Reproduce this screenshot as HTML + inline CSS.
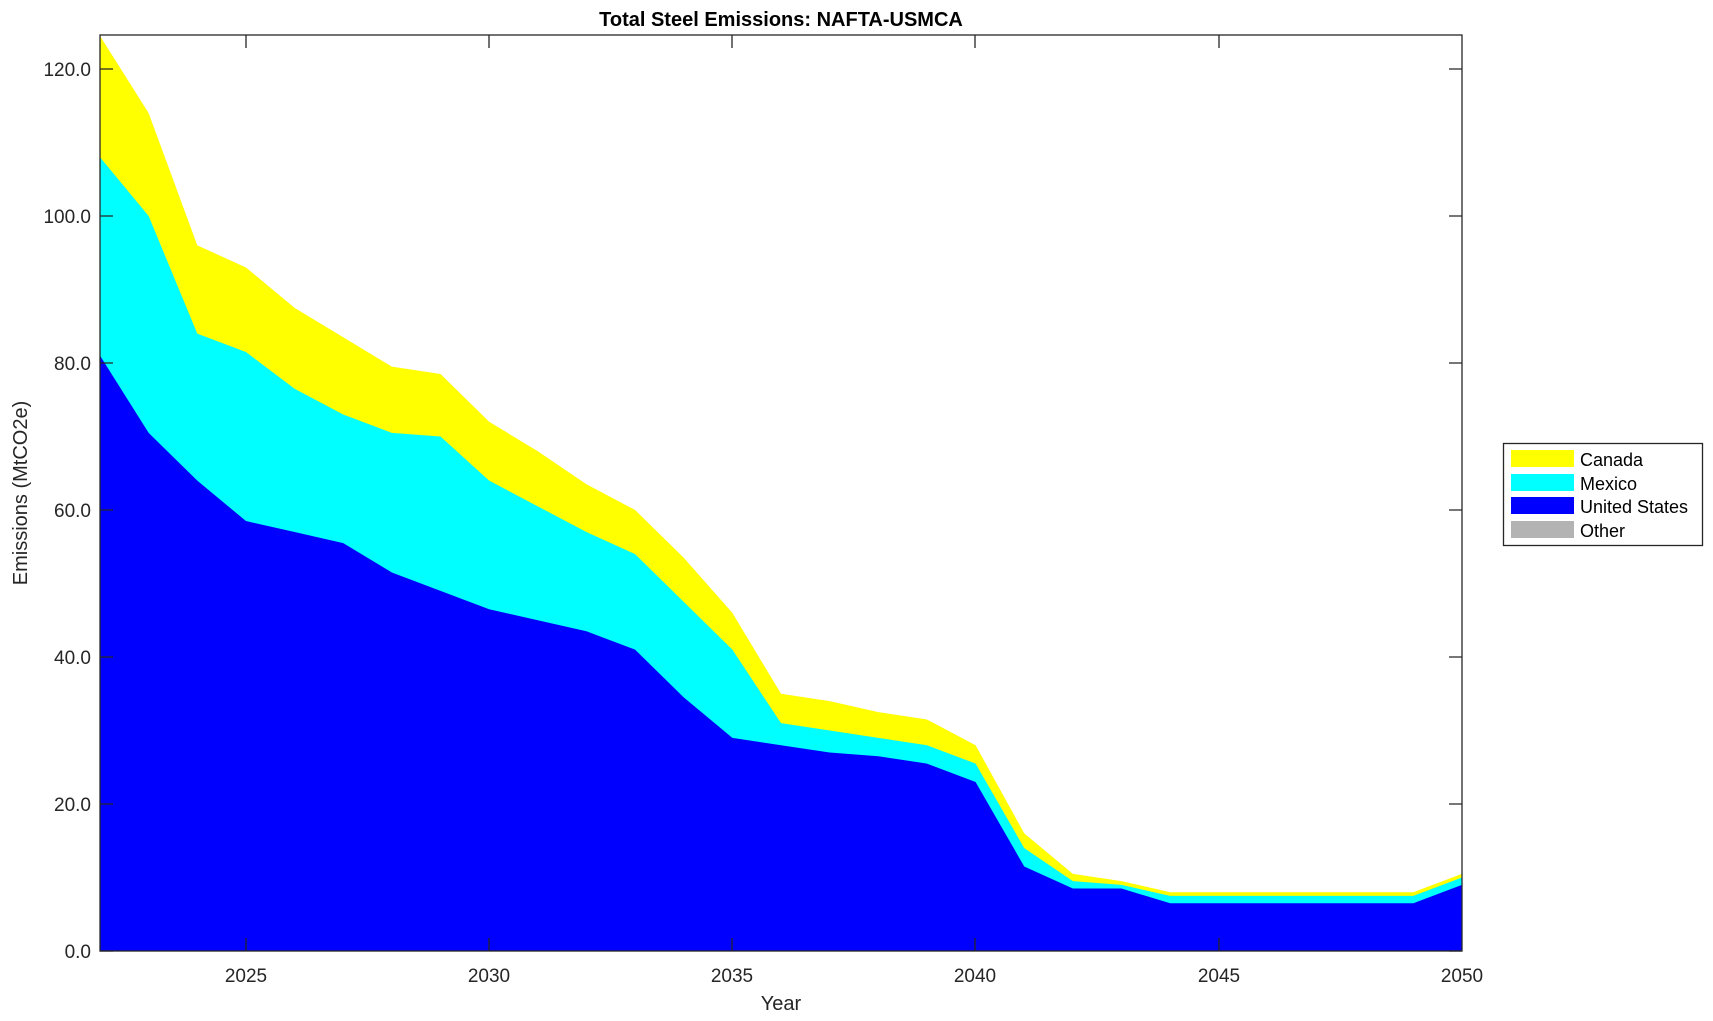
<!DOCTYPE html>
<html><head><meta charset="utf-8"><style>
html,body{margin:0;padding:0;background:#fff;}
svg{display:block;font-family:"Liberation Sans",Arial,sans-serif;}
</style></head><body>
<svg width="1713" height="1021" viewBox="0 0 1713 1021">
<rect width="1713" height="1021" fill="#fff"/>
<g transform="translate(100,951) scale(48.643,-7.35) translate(-2022,0)">
<polygon fill="#ffff00" points="2022,124.5 2023,114 2024,96 2025,93 2026,87.5 2027,83.5 2028,79.5 2029,78.5 2030,72 2031,68 2032,63.5 2033,60 2034,53.5 2035,46 2036,35 2037,34 2038,32.5 2039,31.5 2040,28 2041,16 2042,10.5 2043,9.5 2044,8 2045,8 2046,8 2047,8 2048,8 2049,8 2050,10.5 2050,0 2022,0"/>
<polygon fill="#00ffff" points="2022,108 2023,100 2024,84 2025,81.5 2026,76.5 2027,73 2028,70.5 2029,70 2030,64 2031,60.5 2032,57 2033,54 2034,47.5 2035,41 2036,31 2037,30 2038,29 2039,28 2040,25.5 2041,14 2042,9.5 2043,9 2044,7.5 2045,7.5 2046,7.5 2047,7.5 2048,7.5 2049,7.5 2050,10 2050,0 2022,0"/>
<polygon fill="#0000ff" points="2022,81 2023,70.5 2024,64 2025,58.5 2026,57 2027,55.5 2028,51.5 2029,49 2030,46.5 2031,45 2032,43.5 2033,41 2034,34.5 2035,29 2036,28 2037,27 2038,26.5 2039,25.5 2040,23 2041,11.5 2042,8.5 2043,8.5 2044,6.5 2045,6.5 2046,6.5 2047,6.5 2048,6.5 2049,6.5 2050,9 2050,0 2022,0"/>
</g>
<g stroke="#262626" stroke-width="1.3" fill="none">
<rect x="100" y="35" width="1362" height="916"/>
<path d="M246,951v-13M489,951v-13M732,951v-13M975,951v-13M1219,951v-13M246,35v13M489,35v13M732,35v13M975,35v13M1219,35v13"/>
<path d="M100,951h13M100,804h13M100,657h13M100,510h13M100,363h13M100,216h13M100,69h13M1462,951h-13M1462,804h-13M1462,657h-13M1462,510h-13M1462,363h-13M1462,216h-13M1462,69h-13"/>
</g>
<g fill="#262626" font-size="19" text-anchor="end">
<text x="91" y="958">0.0</text><text x="91" y="811">20.0</text><text x="91" y="664">40.0</text><text x="91" y="517">60.0</text><text x="91" y="370">80.0</text><text x="91" y="223">100.0</text><text x="91" y="76">120.0</text>
</g>
<g fill="#262626" font-size="19" text-anchor="middle">
<text x="246" y="982">2025</text><text x="489" y="982">2030</text><text x="732" y="982">2035</text><text x="975" y="982">2040</text><text x="1219" y="982">2045</text><text x="1462" y="982">2050</text>
<text x="781" y="1010" font-size="20">Year</text>
<text x="781" y="26" font-size="20" font-weight="bold" fill="#000">Total Steel Emissions: NAFTA-USMCA</text>
<text transform="translate(27,493) rotate(-90)" font-size="20">Emissions (MtCO2e)</text>
</g>
<rect x="1503.5" y="443.5" width="199" height="102" fill="#fff" stroke="#262626" stroke-width="1.3"/>
<rect x="1511" y="450" width="63" height="17" fill="#ffff00"/>
<rect x="1511" y="474" width="63" height="17" fill="#00ffff"/>
<rect x="1511" y="497" width="63" height="17" fill="#0000ff"/>
<rect x="1511" y="521" width="63" height="17" fill="#b3b3b3"/>
<g font-size="18" fill="#000">
<text x="1580" y="466">Canada</text><text x="1580" y="490">Mexico</text><text x="1580" y="513">United States</text><text x="1580" y="537">Other</text>
</g>
</svg>
</body></html>
